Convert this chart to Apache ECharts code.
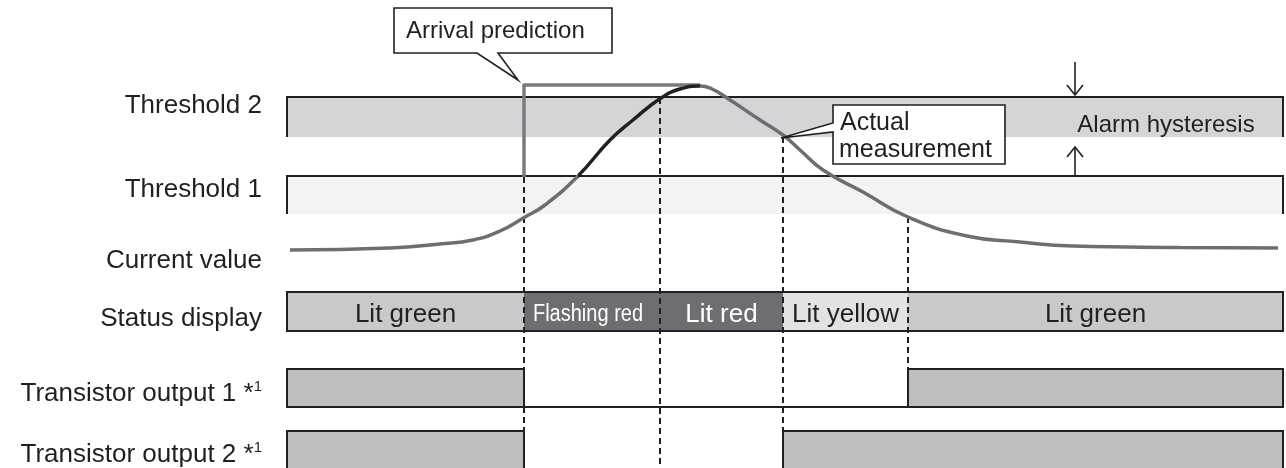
<!DOCTYPE html>
<html>
<head>
<meta charset="utf-8">
<script src="https://cdn.jsdelivr.net/npm/echarts@6/dist/echarts.min.js"></script>
<style>
  html, body { margin: 0; padding: 0; background: #fff; }
  #chart { width: 1286px; height: 468px; }
</style>
</head>
<body>
<div id="chart"></div>
<script>
// x: time along the diagram, y: diagram height units (0 at top, 468 at bottom)
const rowLabels = ['Threshold 2', 'Threshold 1', 'Current value', 'Status display', 'Transistor output 1 *{s|1}', 'Transistor output 2 *{s|1}'];
const rowLabelY = [105.5, 189.5, 261, 319, 394, 455];

const laneStart = 287;
const laneEnd = 1283;

// threshold bands: top, bottom
const thresholdTop = [97, 176];
const thresholdBottom = [137, 214];
const thresholdFill = ['#d4d5d7', '#f2f3f2'];

// dashed event markers
const eventTimes = [524, 660, 783, 908];
const eventTopY = [177, 98, 137, 217];
const eventBottomY = [470, 470, 431, 369];

// current value curve
const curveTime = [290, 390, 440, 473, 500, 525, 545, 578, 610, 633, 661, 680, 700, 712, 727, 760, 783, 800, 823, 863, 908, 967, 1020, 1073, 1180, 1278];
const curveValue = [250, 248, 244, 240, 231, 217, 205, 176, 140, 120, 98, 89, 86, 89, 98, 120, 135, 150, 170, 192, 217, 236, 242, 246, 247.5, 248];
const blackFrom = 578;
const blackTo = 700;

// arrival prediction step
const predictionTime = [524, 524, 700];
const predictionValue = [177, 85, 85];

// status display row
const statusTop = 292;
const statusBottom = 331;
const statusLabels = ['Lit green', 'Flashing red', 'Lit red', 'Lit yellow', 'Lit green'];
const statusStart = [287, 524, 660, 783, 908];
const statusEnd = [524, 660, 783, 908, 1283];

// transistor outputs: 1 = on, 0 = off
const output1Start = [287, 524, 908];
const output1End = [524, 908, 1283];
const output1Level = [1, 0, 1];
const output2Start = [287, 524, 783];
const output2End = [524, 783, 1283];
const output2Level = [1, 0, 1];
const outputTop = [369, 431];
const outputBottom = [407, 471];

// annotations
const hysteresisTime = 1075;
const arrowDown = [62, 95];
const arrowUp = [176, 147];

const ink = '#231f20';
const font = '"Liberation Sans", Arial, sans-serif';
const statusFill = ['#c8c9cb', '#6d6e71', '#6d6e71', '#e1e2e4', '#c8c9cb'];
const statusText = [ink, '#ffffff', '#ffffff', ink, ink];

const chart = echarts.init(document.getElementById('chart'), null, { renderer: 'canvas' });

function renderBand(params, api) {
  const i = params.dataIndex;
  const p0 = api.coord([laneStart, thresholdTop[i]]);
  const p1 = api.coord([laneEnd, thresholdBottom[i]]);
  return {
    type: 'group',
    children: [
      { type: 'rect', shape: { x: p0[0], y: p0[1], width: p1[0] - p0[0], height: p1[1] - p0[1] }, style: { fill: thresholdFill[i] } },
      { type: 'polyline', shape: { points: [[p0[0], p1[1]], [p0[0], p0[1]], [p1[0], p0[1]], [p1[0], p1[1]]] }, style: { stroke: ink, lineWidth: 2, fill: null } }
    ]
  };
}

function renderEvent(params, api) {
  const i = params.dataIndex;
  const a = api.coord([eventTimes[i], eventTopY[i]]);
  const b = api.coord([eventTimes[i], eventBottomY[i]]);
  return {
    type: 'line',
    shape: { x1: a[0], y1: a[1], x2: b[0], y2: b[1] },
    style: { stroke: ink, lineWidth: 2, lineDash: [6, 4] }
  };
}

function renderStatus(params, api) {
  const i = params.dataIndex;
  const p0 = api.coord([statusStart[i], statusTop]);
  const p1 = api.coord([statusEnd[i], statusBottom]);
  // the "Flashing red" label is set in a condensed face in the original
  const small = statusLabels[i] === 'Flashing red';
  return {
    type: 'group',
    children: [
      { type: 'rect', shape: { x: p0[0], y: p0[1], width: p1[0] - p0[0], height: p1[1] - p0[1] }, style: { fill: statusFill[i] } },
      {
        type: 'text', x: (p0[0] + p1[0]) / 2 - (small ? 4 : 0), y: (p0[1] + p1[1]) / 2 + 3,
        scaleX: small ? 0.87 : 1,
        style: {
          text: statusLabels[i], fill: statusText[i], align: 'center', verticalAlign: 'middle',
          fontSize: small ? 23 : 26, fontFamily: font
        }
      }
    ]
  };
}

function renderStatusFrame(params, api) {
  const p0 = api.coord([laneStart, statusTop]);
  const p1 = api.coord([laneEnd, statusBottom]);
  return { type: 'rect', shape: { x: p0[0], y: p0[1], width: p1[0] - p0[0], height: p1[1] - p0[1] }, style: { fill: null, stroke: ink, lineWidth: 2 } };
}

function outputRenderer(starts, ends, levels, row) {
  return function (params, api) {
    const i = params.dataIndex;
    const p0 = api.coord([starts[i], outputTop[row]]);
    const p1 = api.coord([ends[i], outputBottom[row]]);
    if (levels[i]) {
      return { type: 'rect', shape: { x: p0[0], y: p0[1], width: p1[0] - p0[0], height: p1[1] - p0[1] }, style: { fill: '#bcbec0', stroke: ink, lineWidth: 2 } };
    }
    return { type: 'line', shape: { x1: p0[0], y1: p1[1], x2: p1[0], y2: p1[1] }, style: { stroke: ink, lineWidth: 2 } };
  };
}

function renderRowLabel(params, api) {
  const i = params.dataIndex;
  const p = api.coord([262, rowLabelY[i]]);
  return {
    type: 'text', x: p[0], y: p[1],
    style: {
      text: rowLabels[i], fill: ink, align: 'right', verticalAlign: 'middle', fontSize: 26, fontFamily: font,
      rich: { s: { fontSize: 15, fontFamily: font, fill: ink, verticalAlign: 'top', padding: [0, 0, 14, 0] } }
    }
  };
}

function renderAnnotations(params, api) {
  const c = (x, y) => api.coord([x, y]);
  const arrival = [c(394, 8), c(612, 8), c(612, 53), c(498, 53), c(518, 80), c(477, 53), c(394, 53)];
  const actual = [c(833, 105), c(1005, 105), c(1005, 164), c(833, 164), c(833, 132), c(781, 138), c(833, 123)];
  const d0 = c(hysteresisTime, arrowDown[0]);
  const d1 = c(hysteresisTime, arrowDown[1]);
  const u0 = c(hysteresisTime, arrowUp[0]);
  const u1 = c(hysteresisTime, arrowUp[1]);
  const lineStyle = { stroke: ink, lineWidth: 1.6, fill: null };
  return {
    type: 'group',
    children: [
      { type: 'polygon', shape: { points: arrival }, style: { fill: '#fff', stroke: ink, lineWidth: 1.6 } },
      { type: 'text', x: c(406, 31)[0], y: c(406, 31)[1], style: { text: 'Arrival prediction', fill: ink, fontSize: 24, fontFamily: font, align: 'left', verticalAlign: 'middle' } },
      { type: 'polygon', shape: { points: actual }, style: { fill: '#fff', stroke: ink, lineWidth: 1.6 } },
      { type: 'text', x: c(840, 123)[0], y: c(840, 123)[1], style: { text: 'Actual', fill: ink, fontSize: 25, fontFamily: font, align: 'left', verticalAlign: 'middle' } },
      { type: 'text', x: c(839, 150)[0], y: c(839, 150)[1], style: { text: 'measurement', fill: ink, fontSize: 25, fontFamily: font, align: 'left', verticalAlign: 'middle' } },
      { type: 'text', x: c(1166, 125)[0], y: c(1166, 125)[1], style: { text: 'Alarm hysteresis', fill: ink, fontSize: 24, fontFamily: font, align: 'center', verticalAlign: 'middle' } },
      { type: 'line', shape: { x1: d0[0], y1: d0[1], x2: d1[0], y2: d1[1] }, style: lineStyle },
      { type: 'polyline', shape: { points: [[d1[0] - 8, d1[1] - 10], [d1[0], d1[1]], [d1[0] + 8, d1[1] - 10]] }, style: lineStyle },
      { type: 'line', shape: { x1: u0[0], y1: u0[1], x2: u1[0], y2: u1[1] }, style: lineStyle },
      { type: 'polyline', shape: { points: [[u1[0] - 8, u1[1] + 10], [u1[0], u1[1]], [u1[0] + 8, u1[1] + 10]] }, style: lineStyle }
    ]
  };
}

const indexData = (arr) => arr.map((_, i) => [i]);

chart.setOption({
  animation: false,
  backgroundColor: '#ffffff',
  grid: { left: 0, right: 0, top: 0, bottom: 0 },
  xAxis: { type: 'value', min: 0, max: 1286, show: false },
  yAxis: { type: 'value', min: 0, max: 468, inverse: true, show: false },
  visualMap: {
    type: 'piecewise', show: false, dimension: 0, seriesIndex: 7,
    pieces: [
      { lt: blackFrom, color: '#6d6e71' },
      { gte: blackFrom, lt: blackTo, color: ink },
      { gte: blackTo, color: '#6d6e71' }
    ]
  },
  series: [
    { type: 'custom', silent: true, z: 1, renderItem: renderBand, data: indexData(thresholdTop) },
    { type: 'custom', silent: true, z: 1, renderItem: renderStatus, data: indexData(statusLabels) },
    { type: 'custom', silent: true, z: 2, renderItem: renderStatusFrame, data: [[0]] },
    { type: 'custom', silent: true, z: 2, renderItem: outputRenderer(output1Start, output1End, output1Level, 0), data: indexData(output1Level) },
    { type: 'custom', silent: true, z: 2, renderItem: outputRenderer(output2Start, output2End, output2Level, 1), data: indexData(output2Level) },
    { type: 'custom', silent: true, z: 3, renderItem: renderEvent, data: indexData(eventTimes) },
    {
      type: 'line', silent: true, z: 4, showSymbol: false,
      data: predictionTime.map((t, i) => [t, predictionValue[i]]),
      lineStyle: { color: '#7a7b7e', width: 3.5, join: 'round' }
    },
    {
      type: 'line', silent: true, z: 5, showSymbol: false, smooth: 0.5,
      data: curveTime.map((t, i) => [t, curveValue[i]]),
      lineStyle: { width: 3.5 }
    },
    { type: 'custom', silent: true, z: 6, renderItem: renderRowLabel, data: indexData(rowLabels) },
    { type: 'custom', silent: true, z: 7, renderItem: renderAnnotations, data: [[0]] }
  ]
});
</script>
</body>
</html>
